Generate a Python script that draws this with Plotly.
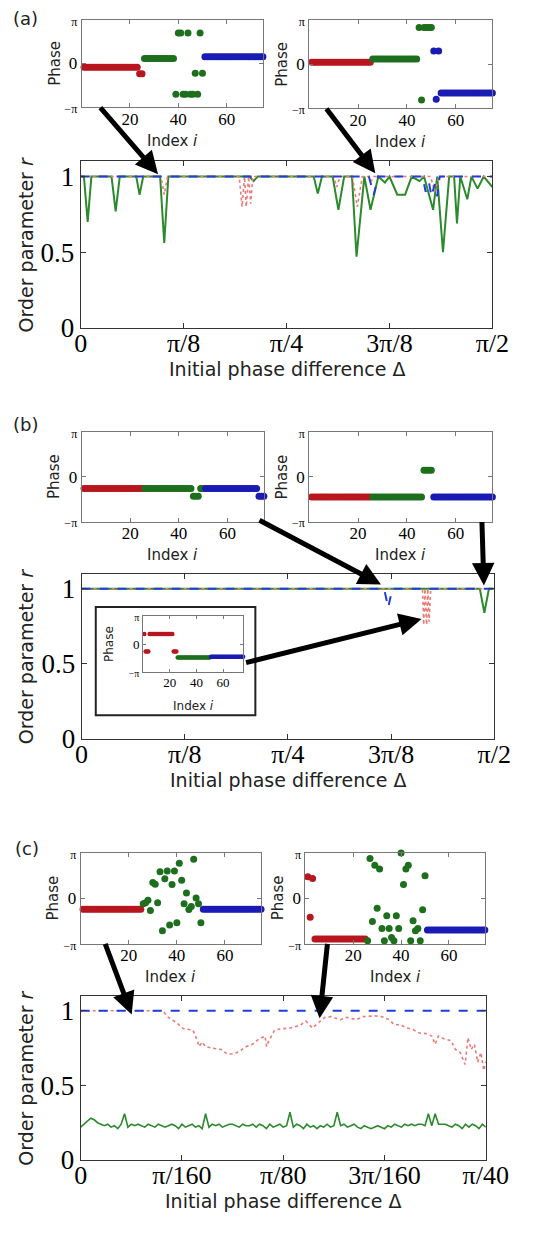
import numpy as np
import plotly.graph_objects as go

W, H = 539, 1239
PI = np.pi

# ---------------- data: main panels ----------------
# Panel (a): Δ in units of π/2, order parameter r
a_green_d = [0, 0.008, 0.017, 0.026, 0.075, 0.085, 0.095, 0.135, 0.143, 0.152, 0.193, 0.203, 0.213,
             0.41, 0.42, 0.43, 0.566, 0.576, 0.586, 0.612, 0.626, 0.64, 0.659, 0.670, 0.689, 0.704,
             0.723, 0.739, 0.750, 0.769, 0.788, 0.804, 0.823, 0.834, 0.856, 0.866, 0.880, 0.895,
             0.907, 0.914, 0.922, 0.939, 0.949, 0.964, 0.979, 0.997, 1.0]
a_green_r = [1, 1, 0.70, 1, 1, 0.77, 1, 1, 0.88, 1, 1, 0.56, 1,
             1, 0.97, 1, 1, 0.887, 1, 1, 0.78, 1, 1, 0.47, 1, 0.78,
             1, 0.96, 1, 0.88, 0.88, 1, 0.97, 1, 0.78, 1, 0.50, 1,
             1, 0.69, 1, 0.85, 1, 0.92, 1, 0.94, 0.93]
a_red_d = [0, 0.195, 0.203, 0.211, 0.385, 0.392, 0.398, 0.402, 0.408, 0.413, 0.418, 0.615, 0.622,
           0.630, 0.660, 0.672, 0.684, 0.700, 0.706, 0.712, 0.850, 0.860, 0.870, 1.0]
a_red_r = [1, 1, 0.88, 1, 1, 0.80, 1, 0.80, 1, 0.82, 1, 1, 0.93,
           1, 1, 0.80, 1, 1, 0.97, 1, 1, 0.90, 1, 1]
a_blue_d = [0, 0.700, 0.712, 0.722, 0.830, 0.838, 0.846, 0.852, 0.860, 0.866, 0.872, 1.0]
a_blue_r = [1, 1, 0.88, 1, 1, 0.90, 0.96, 0.87, 0.95, 0.87, 1, 1]

# Panel (b): Δ in units of π/2
b_green_d = [0, 0.965, 0.976, 0.987, 1.0]
b_green_r = [1, 1, 0.84, 1, 1]
b_blue_d = [0, 0.733, 0.743, 0.753, 1.0]
b_blue_r = [1, 1, 0.876, 1, 1]
b_red_d = [0, 0.826, 0.829, 0.832, 0.836, 0.839, 0.842, 0.846, 1.0]
b_red_r = [1, 1, 0.76, 1, 0.76, 1, 0.78, 1, 1]

# Panel (c): Δ in units of π/40
c_red_d = [0, 0.203, 0.214, 0.238, 0.253, 0.277, 0.288, 0.292, 0.300, 0.308, 0.323, 0.347, 0.362,
           0.378, 0.393, 0.409, 0.424, 0.440, 0.455, 0.459, 0.463, 0.479, 0.494, 0.517, 0.541,
           0.556, 0.572, 0.587, 0.603, 0.618, 0.641, 0.657, 0.681, 0.696, 0.727, 0.743, 0.762,
           0.774, 0.789, 0.805, 0.821, 0.836, 0.852, 0.867, 0.875, 0.883, 0.898, 0.914, 0.925,
           0.937, 0.949, 0.956, 0.964, 0.972, 0.980, 0.988, 0.995, 1.0]
c_red_r = [1, 1, 0.96, 0.917, 0.88, 0.87, 0.80, 0.76, 0.79, 0.76, 0.75, 0.74, 0.71,
           0.71, 0.73, 0.76, 0.775, 0.81, 0.83, 0.76, 0.79, 0.87, 0.878, 0.884, 0.90,
           0.93, 0.884, 0.917, 0.956, 0.96, 0.94, 0.956, 0.94, 0.96, 0.965, 0.96, 0.94,
           0.906, 0.906, 0.884, 0.873, 0.85, 0.847, 0.83, 0.775, 0.83, 0.81, 0.80, 0.74,
           0.72, 0.64, 0.82, 0.74, 0.775, 0.655, 0.72, 0.60, 0.66]
c_blue_d = [0, 1.0]
c_blue_r = [1, 1]
c_green_r = [
    0.22, 0.24, 0.26, 0.28, 0.27, 0.25, 0.24, 0.23, 0.24, 0.22,
    0.23, 0.21, 0.24, 0.31, 0.22, 0.24, 0.23, 0.24, 0.23, 0.22,
    0.24, 0.23, 0.22, 0.24, 0.23, 0.22, 0.23, 0.24, 0.23, 0.21,
    0.24, 0.22, 0.23, 0.24, 0.22, 0.23, 0.21, 0.31, 0.22, 0.24,
    0.23, 0.24, 0.22, 0.23, 0.24, 0.24, 0.23, 0.22, 0.24, 0.23,
    0.23, 0.24, 0.22, 0.24, 0.23, 0.21, 0.24, 0.22, 0.23, 0.24,
    0.22, 0.23, 0.32, 0.22, 0.24, 0.23, 0.21, 0.24, 0.22, 0.23,
    0.21, 0.23, 0.22, 0.24, 0.22, 0.23, 0.32, 0.23, 0.24, 0.22,
    0.23, 0.24, 0.22, 0.21, 0.23, 0.22, 0.21, 0.22, 0.23, 0.22,
    0.21, 0.23, 0.22, 0.24, 0.23, 0.22, 0.24, 0.23, 0.24, 0.23,
    0.24, 0.24, 0.23, 0.31, 0.23, 0.31, 0.24, 0.24, 0.24, 0.23,
    0.22, 0.24, 0.23, 0.21, 0.24, 0.22, 0.24, 0.23, 0.21, 0.24, 0.22]
c_green_d = list(np.linspace(0, 1, len(c_green_r)))

# ---------------- data: inset snapshots (oscillator index -> phase) ----------------
red_idx = list(range(1, 26))
green_idx = list(range(26, 51))
blue_idx = list(range(51, 76))

a1_red = [-0.26] * 23 + [-0.73] * 2
a1_green = [0.37] * 13 + [-2.2, 2.2, 2.2, -2.2, -2.2, 2.2, -2.2, -2.2, -0.7, -2.2, 2.2, -0.7]
a1_blue = [0.49] * 25

a2_red = [0.12] * 25
a2_green = [0.35] * 19 + [2.6, -2.56, 2.6, 2.6, 2.6, 2.6]
a2_blue = [0.93, -2.5, 0.93] + [-2.05] * 22

b1_red = [-0.83] * 25
b1_green = [-0.83] * 20 + [-1.37] * 3 + [-0.83] * 2
b1_blue = [-0.83] * 22 + [-1.37] * 3

b2_red = [-1.42] * 25
b2_green = [-1.42] * 21 + [0.45] * 4
b2_blue = [-1.42] * 25

b3_red = [1.13] + [-0.84] * 3 + [1.13] * 18 + [-0.84] * 3
b3_green = [-1.5] * 25
b3_blue = [-1.42] * 25

c1_red = [-0.75] * 25
c1_green = [-0.37, -0.3, -0.14, -0.84, 1.1, 0.98, -0.3, 1.85, -2.25, 1.36, 1.9, -1.85, 0.96,
            1.9, -1.7, 2.44, 1.26, -0.37, 0.37, -0.77, -0.56, 2.72, 0.02, -0.37, -1.7]
c1_blue = [-0.75] * 25

c2_red = [1.5, -1.31, 1.38] + [-2.83] * 22
c2_green = [-2.95, 2.77, -1.6, 2.3, -0.68, 2.04, -2.09, -2.95, -1.2, -2.09, -2.72, -2.95, -1.2,
            -2.09, 3.14, 0.96, 2.04, 2.3, -2.95, -1.55, -2.25, -2.09, -2.95, -0.8, 1.57]
c2_blue = [-2.2] * 25

# ---------------- styling ----------------
RED_M, GREEN_M, BLUE_M = '#b8161e', '#1d6f1d', '#1a1ab4'
GREEN_L, BLUE_L, RED_L = '#2b8a2b', '#1f3fd8', '#f07878'
SERIF = 'Liberation Serif'
SANS = 'DejaVu Sans'

fig = go.Figure()
layout = dict(width=W, height=H, margin=dict(l=0, r=0, t=0, b=0),
              paper_bgcolor='white', plot_bgcolor='white', showlegend=False)


def dom_x(x0, x1):
    return [x0 / W, x1 / W]


def dom_y(y0, y1):
    return [1 - y1 / H, 1 - y0 / H]


def add_main(n, xpx, ypx, xmax, tickvals, ticktext):
    sfx = '' if n == 1 else str(n)
    frame = dict(showline=True, linecolor='#333', linewidth=1, mirror='ticks', ticks='inside',
                 ticklen=5, tickcolor='#333', showgrid=False, zeroline=False,
                 tickfont=dict(family=SERIF, size=26, color='black'))
    layout['xaxis' + sfx] = dict(frame, domain=dom_x(*xpx), anchor='y' + sfx, range=[0, xmax],
                                 tickmode='array', tickvals=tickvals, ticktext=ticktext,
                                 ticklabelstandoff=-8)
    layout['yaxis' + sfx] = dict(frame, domain=dom_y(*ypx), anchor='x' + sfx, range=[0, 1.1],
                                 tickmode='array', tickvals=[0, 0.5, 1], ticktext=['0', '0.5', '1'],
                                 tickfont=dict(family=SERIF, size=27, color='black'))
    return 'x' + sfx, 'y' + sfx


def add_inset(n, xpx, ypx, small=False):
    sfx = str(n)
    fs = 13 if small else 17
    pfs = 10 if small else 12
    frame = dict(showline=True, linecolor='#777', linewidth=1, mirror='ticks', ticks='inside',
                 ticklen=3 if small else 4, tickcolor='#777', showgrid=False, zeroline=False,
                 tickfont=dict(family=SERIF, size=fs, color='black'))
    layout['xaxis' + sfx] = dict(frame, domain=dom_x(*xpx), anchor='y' + sfx, range=[0, 75],
                                 tickmode='array', tickvals=[20, 40, 60], ticktext=['20', '40', '60'],
                                 ticklabelstandoff=-2 if small else -4)
    layout['yaxis' + sfx] = dict(frame, domain=dom_y(*ypx), anchor='x' + sfx, range=[-PI, PI],
                                 tickmode='array', tickvals=[-PI, 0, PI],
                                 ticktext=[f'<span style="font-size:{pfs}px">−π</span>', '0',
                                           f'<span style="font-size:{pfs}px">π</span>'])
    return 'x' + sfx, 'y' + sfx


def line(xa, ya, d, r, scale, color, dash, width):
    fig.add_trace(go.Scatter(x=[v * scale for v in d], y=r, xaxis=xa, yaxis=ya, mode='lines',
                             line=dict(color=color, dash=dash, width=width), hoverinfo='skip'))


def dots(xa, ya, groups, size):
    for idx, ph, col in groups:
        fig.add_trace(go.Scatter(x=idx, y=ph, xaxis=xa, yaxis=ya, mode='markers', cliponaxis=False,
                                 marker=dict(color=col, size=size, line=dict(width=0)),
                                 hoverinfo='skip'))


# main panels
xa, ya = add_main(1, (78, 514), (159, 328), PI / 2, [0, PI / 8, PI / 4, 3 * PI / 8, PI / 2],
                  ['0', 'π/8', 'π/4', '3π/8', 'π/2'])
line(xa, ya, a_green_d, a_green_r, PI / 2, GREEN_L, 'solid', 2)
line(xa, ya, a_red_d, a_red_r, PI / 2, RED_L, 'dot', 1.6)
line(xa, ya, a_blue_d, a_blue_r, PI / 2, BLUE_L, 'dash', 2)

xb, yb = add_main(2, (79, 516), (578, 746), PI / 2, [0, PI / 8, PI / 4, 3 * PI / 8, PI / 2],
                  ['0', 'π/8', 'π/4', '3π/8', 'π/2'])
line(xb, yb, b_green_d, b_green_r, PI / 2, GREEN_L, 'solid', 2)
line(xb, yb, b_red_d, b_red_r, PI / 2, RED_L, 'dot', 1.6)
line(xb, yb, b_blue_d, b_blue_r, PI / 2, BLUE_L, 'dash', 2)

xc, yc = add_main(3, (78, 507), (1007, 1174), PI / 40,
                  [0, PI / 160, PI / 80, 3 * PI / 160, PI / 40],
                  ['0', 'π/160', 'π/80', '3π/160', 'π/40'])
line(xc, yc, c_green_d, c_green_r, PI / 40, GREEN_L, 'solid', 1.6)
line(xc, yc, c_red_d, c_red_r, PI / 40, RED_L, 'dot', 1.6)
line(xc, yc, c_blue_d, c_blue_r, PI / 40, BLUE_L, 'dash', 2)

# insets
insets = [
    (4, (79, 271), (15, 104), a1_red, a1_green, a1_blue, False),
    (5, (320, 514), (15, 105), a2_red, a2_green, a2_blue, False),
    (6, (79, 272), (434, 525), b1_red, b1_green, b1_blue, False),
    (7, (320, 514), (434, 525), b2_red, b2_green, b2_blue, False),
    (8, (144, 250), (621, 678), b3_red, b3_green, b3_blue, True),
    (9, (78, 269), (862, 954), c1_red, c1_green, c1_blue, False),
    (10, (316, 506), (862, 954), c2_red, c2_green, c2_blue, False),
]
annotations = []
for n, xpx, ypx, rr, gg, bb, small in insets:
    xi, yi = add_inset(n, xpx, ypx, small)
    dots(xi, yi, [(red_idx, rr, RED_M), (green_idx, gg, GREEN_M), (blue_idx, bb, BLUE_M)],
         4.5 if small else 7)
    cx = (xpx[0] + xpx[1]) / 2
    cy = (ypx[0] + ypx[1]) / 2
    fs = 12 if small else 15
    annotations.append(dict(x=cx / W, y=1 - (ypx[1] + 34) / H, xref='paper',
                            yref='paper', text='Index <i>i</i>', showarrow=False,
                            font=dict(family=SANS, size=fs, color='#222'),
                            xanchor='center', yanchor='middle'))
    annotations.append(dict(x=(xpx[0] - (36 if small else 29)) / W, y=1 - cy / H, xref='paper',
                            yref='paper', text='Phase', showarrow=False, textangle=-90,
                            font=dict(family=SANS, size=fs, color='#222'),
                            xanchor='center', yanchor='middle'))

# titles for main panels
for ypx, xpx in [((159, 328), (78, 514)), ((578, 746), (79, 516)), ((1007, 1174), (78, 507))]:
    annotations.append(dict(x=20 / W, y=1 - (ypx[0] + ypx[1]) / 2 / H, xref='paper', yref='paper',
                            text='Order parameter <i>r</i>', showarrow=False, textangle=-90,
                            font=dict(family=SANS, size=19, color='#222'),
                            xanchor='center', yanchor='middle'))
    annotations.append(dict(x=(xpx[0] + xpx[1]) / 2 / W, y=1 - (ypx[1] + 42) / H, xref='paper',
                            yref='paper', text='Initial phase difference Δ', showarrow=False,
                            font=dict(family=SANS, size=19, color='#222'),
                            xanchor='center', yanchor='middle'))

for lab, (lx, ly) in [('(a)', (20, 14)), ('(b)', (20, 426)), ('(c)', (21, 857))]:
    annotations.append(dict(x=lx / W, y=1 - ly / H, xref='paper', yref='paper', text=lab,
                            showarrow=False, font=dict(family=SANS, size=18, color='#222'),
                            xanchor='center', yanchor='middle'))

# arrows: (tail px, tip px)
arrows = [((101, 104), (160, 172)), ((340, 105), (390, 171)),
          ((273, 524), (396, 589)), ((503, 525), (505, 590)), ((262, 668), (439, 624)),
          ((105, 954), (132, 1026)), ((339, 954), (331, 1030))]
for (tx, ty), (hx, hy) in arrows:
    annotations.append(dict(x=hx / W, y=1 - hy / H, xref='paper', yref='paper', text='',
                            showarrow=True, axref='pixel', ayref='pixel', ax=tx - hx, ay=ty - hy,
                            arrowhead=2, arrowsize=0.9, arrowwidth=5, arrowcolor='black',
                            standoff=0, startstandoff=0))

layout['annotations'] = annotations
layout['shapes'] = [dict(type='rect', xref='paper', yref='paper', x0=94 / W, x1=263 / W,
                         y0=1 - 722 / H, y1=1 - 612 / H, line=dict(color='#222', width=2),
                         fillcolor='rgba(0,0,0,0)', layer='above')]

fig.update_layout(**layout)
fig.write_html('out.html')
